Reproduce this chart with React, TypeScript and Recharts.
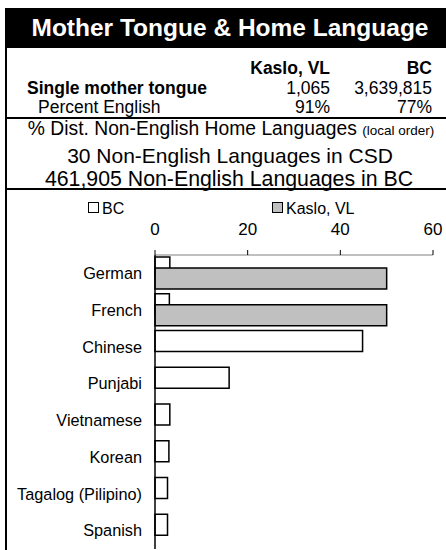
import { BarChart, Bar, XAxis, YAxis } from 'recharts'

const languages = ['German', 'French', 'Chinese', 'Punjabi', 'Vietnamese', 'Korean', 'Tagalog (Pilipino)', 'Spanish']
const bcShare = [3.2, 3.1, 44.8, 16.0, 3.2, 3.0, 2.7, 2.7]
const kasloShare = [50.0, 50.0, 0, 0, 0, 0, 0, 0]
const xTicks = [0, 20, 40, 60]

const tableHeader = ['Kaslo, VL', 'BC']
const motherTongue = ['1,065', '3,639,815']
const percentEnglish = ['91%', '77%']

const font = '"Liberation Sans", Arial, Helvetica, sans-serif'

const data = languages.map((name, i) => ({ name, bc: bcShare[i], kaslo: kasloShare[i] }))

const abs = (top: number, extra: React.CSSProperties = {}): React.CSSProperties => ({
  position: 'absolute',
  top,
  lineHeight: '20px',
  whiteSpace: 'nowrap',
  ...extra,
})

function LegendBox({ fill }: { fill: string }) {
  return (
    <span
      style={{
        display: 'inline-block',
        width: 9,
        height: 9,
        border: '1px solid #000',
        background: fill,
        marginRight: 3,
        verticalAlign: 'middle',
        position: 'relative',
        top: -2,
      }}
    />
  )
}

export default function App() {
  return (
    <div style={{ position: 'relative', width: 446, height: 550, background: '#fff', fontFamily: font, color: '#000', overflow: 'hidden' }}>
      <style>{`body{margin:0}`}</style>

      {/* title band */}
      <div
        style={{
          position: 'absolute', left: 5, top: 8, width: 441, height: 40,
          background: '#000', color: '#fff', fontWeight: 'bold', fontSize: 24.5,
          lineHeight: '40px', textAlign: 'center', paddingLeft: 9, boxSizing: 'border-box',
        }}
      >
        Mother Tongue &amp; Home Language
      </div>

      {/* frame lines */}
      <div style={{ position: 'absolute', left: 5, top: 48, width: 2, height: 502, background: '#000' }} />
      <div style={{ position: 'absolute', left: 5, top: 117, width: 441, height: 2, background: '#000' }} />
      <div style={{ position: 'absolute', left: 5, top: 188, width: 441, height: 2, background: '#000' }} />

      {/* table */}
      <div style={{ fontSize: 17.5 }}>
        <div style={abs(58, { right: 116, fontWeight: 'bold' })}>{tableHeader[0]}</div>
        <div style={abs(58, { right: 14, fontWeight: 'bold' })}>{tableHeader[1]}</div>
        <div style={abs(78, { left: 27, fontWeight: 'bold' })}>Single mother tongue</div>
        <div style={abs(78, { right: 116 })}>{motherTongue[0]}</div>
        <div style={abs(78, { right: 14 })}>{motherTongue[1]}</div>
        <div style={abs(97, { left: 38 })}>Percent English</div>
        <div style={abs(97, { right: 116 })}>{percentEnglish[0]}</div>
        <div style={abs(97, { right: 14 })}>{percentEnglish[1]}</div>
      </div>

      <div style={abs(119, { left: 0, width: 462, textAlign: 'center', fontSize: 19.3 })}>
        % Dist. Non-English Home Languages <span style={{ fontSize: 13.5 }}>(local order)</span>
      </div>
      <div style={abs(145, { left: 0, width: 460, textAlign: 'center', fontSize: 21, lineHeight: '22px' })}>
        30 Non-English Languages in CSD
      </div>
      <div style={abs(168, { left: 0, width: 458, textAlign: 'center', fontSize: 21.3, lineHeight: '22px' })}>
        461,905 Non-English Languages in BC
      </div>

      {/* legend */}
      <div style={abs(199, { left: 88, fontSize: 16 })}>
        <LegendBox fill="#fff" />BC
      </div>
      <div style={abs(199, { left: 272, fontSize: 16 })}>
        <LegendBox fill="#c0c0c0" />Kaslo, VL
      </div>

      <div style={{ position: 'absolute', left: 0, top: 185 }}>
        <BarChart
          width={446}
          height={365}
          data={data}
          layout="vertical"
          margin={{ top: 0, right: 13, bottom: 1, left: 0 }}
          barSize={21}
          barGap={-10}
          barCategoryGap={0}
        >
          <XAxis
            type="number"
            orientation="top"
            domain={[0, 60]}
            ticks={xTicks}
            height={70}
            tickSize={5}
            tickMargin={15}
            stroke="#808080"
            tickLine={{ stroke: '#000' }}
            tick={{ fill: '#000', fontSize: 17, fontFamily: font }}
          />
          <YAxis
            type="category"
            dataKey="name"
            width={155}
            tickLine={false}
            tickSize={6}
            tickMargin={7}
            axisLine={{ stroke: '#000', strokeWidth: 1.5 }}
            tick={{ fill: '#000', fontSize: 16.3, fontFamily: font }}
            interval={0}
          />
          <Bar dataKey="bc" name="BC" fill="#ffffff" stroke="#000" strokeWidth={1.5} isAnimationActive={false} />
          <Bar dataKey="kaslo" name="Kaslo, VL" fill="#c0c0c0" stroke="#000" strokeWidth={1.5} isAnimationActive={false} />
        </BarChart>
      </div>
    </div>
  )
}
